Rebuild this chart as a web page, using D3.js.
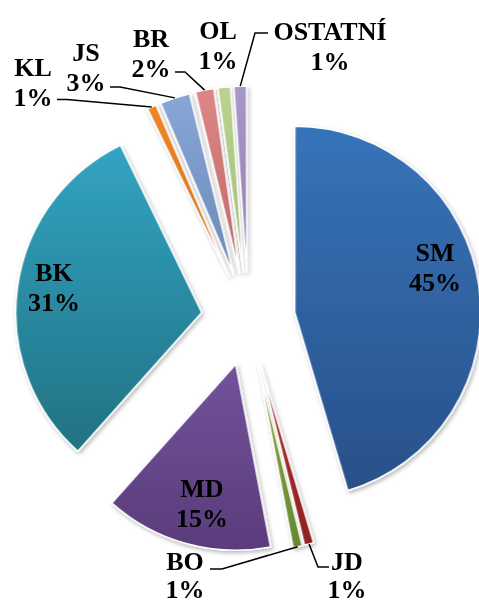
<!DOCTYPE html>
<html>
<head>
<meta charset="utf-8">
<script src="https://cdn.jsdelivr.net/npm/d3@7/dist/d3.min.js"></script>
<style>
  html, body { margin: 0; padding: 0; background: #fff; }
  svg { display: block; }
  text { font-family: "Liberation Serif", "Times New Roman", serif; font-weight: bold; }
</style>
</head>
<body>
<svg id="chart" width="479" height="605"></svg>
<script>
// Share of each category, in percent, going clockwise from 12 o'clock
const categories = ["SM", "JD", "BO", "MD", "BK", "KL", "JS", "BR", "OL", "OSTATNÍ"];
const shares = [45.4, 0.8, 0.8, 14.6, 31.2, 0.8, 2.6, 1.6, 1.1, 1.1];

// Slice fill: top colour and bottom colour of the vertical gradient
const topColors = ["#3674B9", "#B3312F", "#88AA42", "#72539B", "#32A4C2", "#EF8628", "#87A7D7", "#DC8786", "#BAD490", "#A998C7"];
const bottomColors = ["#29508A", "#8E2321", "#688830", "#5A3C7B", "#227283", "#D26E1A", "#6C89B7", "#C06766", "#A0BC77", "#8F7EAE"];

// Layout
const width = 479, height = 605;
const cx = 248.3, cy = 319;
const radius = 186;
const explode = 47;
const fontSize = 26;
const lineGap = 30;

// Label placement: centre x and first-line baseline; optional leader elbow points
const labelLayout = {
  "SM":      { x: 435, y: 261 },
  "BK":      { x: 54,  y: 281 },
  "MD":      { x: 202, y: 497 },
  "BO":      { x: 185, y: 570, gap: 28, leader: [[210, 569], [222, 569]] },
  "JD":      { x: 347, y: 570, gap: 28, leader: [[329, 567], [318, 567]] },
  "KL":      { x: 33,  y: 76,  leader: [[57, 99.5], [67, 99.5]] },
  "JS":      { x: 86,  y: 61,  leader: [[110, 87], [120, 87]] },
  "BR":      { x: 151, y: 47,  leader: [[175, 72], [185, 72]] },
  "OL":      { x: 218, y: 39 },
  "OSTATNÍ": { x: 330, y: 40,  leader: [[268, 33], [255, 33]] }
};

const data = categories.map((c, i) => ({ name: c, value: shares[i], i }));

const svg = d3.select("#chart");
const defs = svg.append("defs");

// soft drop shadow under the slices
const shadow = defs.append("filter").attr("id", "shadow")
  .attr("x", "-20%").attr("y", "-20%").attr("width", "140%").attr("height", "140%");
shadow.append("feDropShadow")
  .attr("dx", 1.5).attr("dy", 2).attr("stdDeviation", 2)
  .attr("flood-color", "#000").attr("flood-opacity", 0.3);

data.forEach(d => {
  const g = defs.append("linearGradient")
    .attr("id", "grad" + d.i)
    .attr("x1", 0).attr("y1", 0).attr("x2", 0).attr("y2", 1);
  g.append("stop").attr("offset", "0%").attr("stop-color", topColors[d.i]);
  g.append("stop").attr("offset", "100%").attr("stop-color", bottomColors[d.i]);
});

const pie = d3.pie().value(d => d.value).sort(null)
  .startAngle(0).endAngle(2 * Math.PI);
const arcs = pie(data);

const arc = d3.arc().innerRadius(0).outerRadius(radius);
const rimArc = d3.arc().innerRadius(radius).outerRadius(radius);

// offset of an exploded slice along its bisector
function offset(a, dist) {
  const mid = (a.startAngle + a.endAngle) / 2;
  return [dist * Math.sin(mid), -dist * Math.cos(mid)];
}

const root = svg.append("g").attr("transform", `translate(${cx},${cy})`);

root.append("g").attr("filter", "url(#shadow)")
  .selectAll("path")
  .data(arcs)
  .join("path")
  .attr("transform", d => { const o = offset(d, explode); return `translate(${o[0]},${o[1]})`; })
  .attr("d", arc)
  .attr("fill", d => `url(#grad${d.data.i})`)
  .attr("stroke", "#fff")
  .attr("stroke-width", 1.5)
  .attr("stroke-linejoin", "round");

// leader lines from label to the outer middle of the slice
const line = d3.line();
arcs.forEach(a => {
  const lay = labelLayout[a.data.name];
  if (!lay.leader) return;
  const rim = rimArc.centroid(a);
  const o = offset(a, explode);
  const anchor = [cx + rim[0] + o[0], cy + rim[1] + o[1]];
  svg.append("path")
    .attr("d", line(lay.leader.concat([anchor])))
    .attr("fill", "none")
    .attr("stroke", "#000")
    .attr("stroke-width", 1.5);
});

// category name and rounded percentage
const fmt = v => Math.round(v) + "%";
arcs.forEach(a => {
  const lay = labelLayout[a.data.name];
  const gap = lay.gap || lineGap;
  const t = svg.append("text")
    .attr("text-anchor", "middle")
    .attr("font-size", fontSize)
    .attr("fill", "#000");
  t.append("tspan").attr("x", lay.x).attr("y", lay.y).text(a.data.name);
  t.append("tspan").attr("x", lay.x).attr("y", lay.y + gap).text(fmt(a.data.value));
});
</script>
</body>
</html>
